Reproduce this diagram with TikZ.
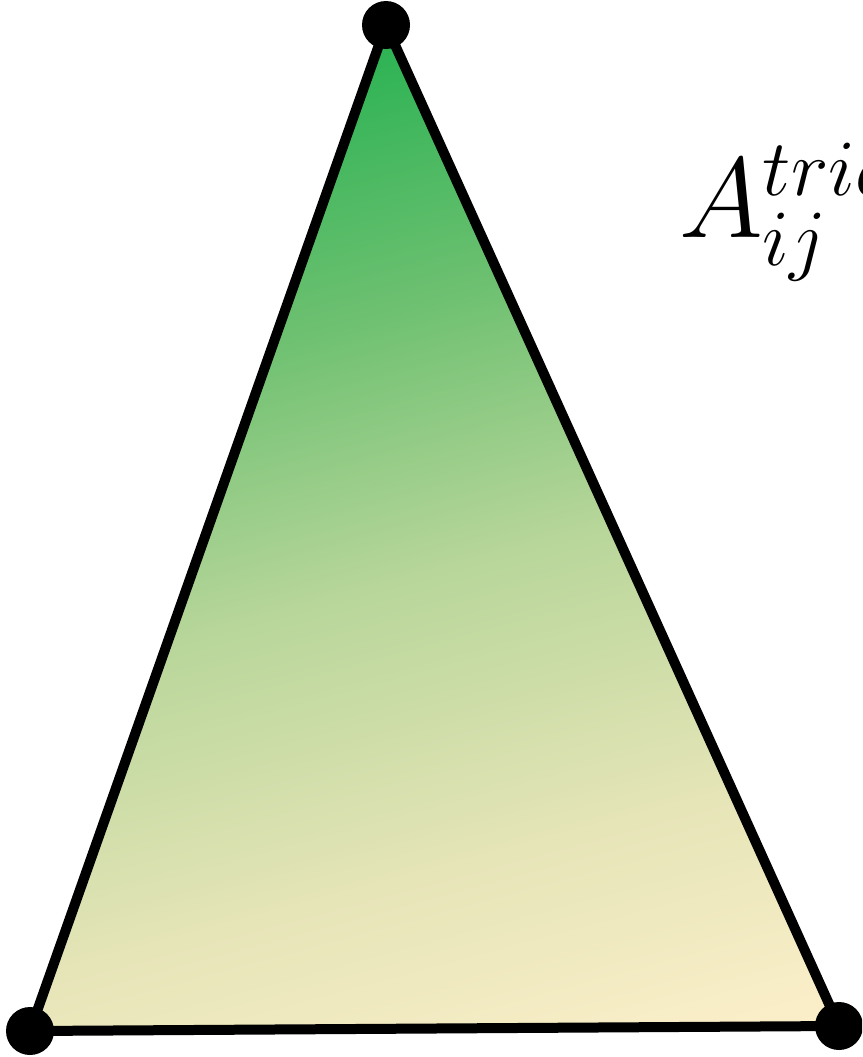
\RequirePackage{fix-cm}
\documentclass[tikz,border=0pt]{standalone}
\definecolor{gtop}{RGB}{40,178,82}
\definecolor{gq1}{RGB}{108,192,112}
\definecolor{gmid}{RGB}{184,214,154}
\definecolor{gq3}{RGB}{230,229,184}
\definecolor{gbot}{RGB}{252,239,202}
\pgfdeclareverticalshading{trigrad}{100bp}{color(0bp)=(gbot); color(33.3bp)=(gbot); color(42.9bp)=(gq3); color(54.2bp)=(gmid); color(64.6bp)=(gq1); color(75bp)=(gtop); color(100bp)=(gtop)}
\begin{document}
\begin{tikzpicture}[x=1pt,y=-1pt,
  dot/.style={circle,fill=black,minimum size=48pt,inner sep=0pt},
  edge/.style={line width=10pt,line join=round,draw=black},
  lab/.style={anchor=base west,inner sep=0pt,font=\fontsize{114}{130}\selectfont}]
\useasboundingbox (0,0) rectangle (862,1057);
\clip (0,0) rectangle (862,1057);
\coordinate (T) at (386,25);
\coordinate (BL) at (30,1031);
\coordinate (BR) at (839,1026);
\begin{scope}
  \clip (T) -- (BL) -- (BR) -- cycle;
  \begin{scope}[transform canvas={rotate around={15:(T)}}]
    \shade[shading=trigrad] (-264,25) rectangle (1036,1325);
  \end{scope}
\end{scope}
\draw[edge] (T) -- (BL) -- (BR) -- cycle;
\node[dot] (vT) at (T) {};
\node[dot] (vBL) at (BL) {};
\node[dot] (vBR) at (BR) {};
\node[lab] (lbl) at (679,237) {$A_{ij}^{triangle}$};
\end{tikzpicture}
\end{document}
